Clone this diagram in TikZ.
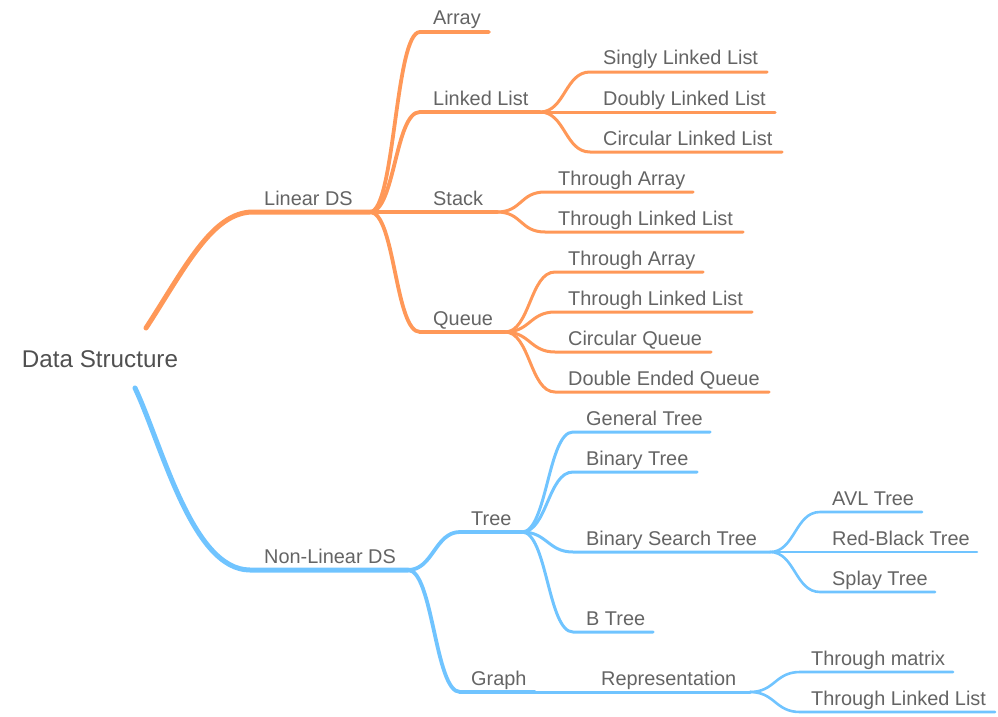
\documentclass[tikz,border=0pt]{standalone}
\usepackage{fontspec}
\setmainfont{Liberation Sans}
\definecolor{orng}{RGB}{255,152,88}
\definecolor{blu}{RGB}{112,196,255}
\definecolor{txt}{RGB}{100,100,100}
\definecolor{rtxt}{RGB}{80,80,80}
\begin{document}
\begin{tikzpicture}[x=1pt,y=-1pt,
  lbl/.style={anchor=base west,inner sep=0pt,text=txt,font=\fontsize{19.9}{22}\selectfont},
  rootlbl/.style={inner sep=0pt,text=rtxt,font=\fontsize{24.2}{27}\selectfont},
  e1o/.style={draw=orng,line width=5pt,line cap=round},
  e2o/.style={draw=orng,line width=3.8pt,line cap=round},
  e3o/.style={draw=orng,line width=3pt,line cap=round},
  e1b/.style={draw=blu,line width=5pt,line cap=round},
  e2b/.style={draw=blu,line width=3.8pt,line cap=round},
  e3b/.style={draw=blu,line width=3pt,line cap=round},
  e4b/.style={draw=blu,line width=2.6pt,line cap=round},
  cv/.style={out=0,in=180,distance=25pt}
]
\useasboundingbox (0,0) rectangle (998,717);
% root
\node[rootlbl] (root) at (100,359) {Data Structure};
% ---------- Linear DS ----------
\coordinate (oS) at (146,328);
\coordinate (lin) at (253,212);
\coordinate (linE) at (370,212);
\draw[e1o] (oS) .. controls (185,268) and (212,212) .. (lin) -- (linE);
\node[lbl] (linT) at (264,205) {Linear DS};
% Array
\coordinate (arrS) at (420,32); \coordinate (arrE) at (489,32);
\draw[e2o] (linE) to[cv] (arrS) -- (arrE);
\node[lbl] (arrT) at (433,25) {Array};
% Linked List
\coordinate (llS) at (420,112); \coordinate (llE) at (540,112);
\draw[e2o] (linE) to[cv] (llS) -- (llE);
\node[lbl] (llT) at (433,105) {Linked List};
% Stack
\coordinate (stE) at (497,212);
\draw[e2o] (linE) -- (stE);
\node[lbl] (stT) at (433,205) {Stack};
% Queue
\coordinate (quS) at (420,332); \coordinate (quE) at (505,332);
\draw[e2o] (linE) to[cv] (quS) -- (quE);
\node[lbl] (quT) at (433,325) {Queue};
% Linked list children
\coordinate (sl1) at (590,72); \coordinate (sl2) at (767,72);
\draw[e3o] (llE) to[cv] (sl1) -- (sl2);
\node[lbl] (slT) at (603,65) {Singly Linked List};
\coordinate (dl2) at (775,112);
\draw[e3o] (llE) -- (dl2);
\node[lbl] (dlT) at (603,105) {Doubly Linked List};
\coordinate (cl1) at (590,152); \coordinate (cl2) at (782,152);
\draw[e3o] (llE) to[cv] (cl1) -- (cl2);
\node[lbl] (clT) at (603,145) {Circular Linked List};
% Stack children
\coordinate (sa1) at (545,192); \coordinate (sa2) at (693,192);
\draw[e3o] (stE) to[cv] (sa1) -- (sa2);
\node[lbl] (saT) at (558,185) {Through Array};
\coordinate (sb1) at (545,232); \coordinate (sb2) at (743,232);
\draw[e3o] (stE) to[cv] (sb1) -- (sb2);
\node[lbl] (sbT) at (558,225) {Through Linked List};
% Queue children
\coordinate (qa1) at (555,272); \coordinate (qa2) at (703,272);
\draw[e3o] (quE) to[cv] (qa1) -- (qa2);
\node[lbl] (qaT) at (568,265) {Through Array};
\coordinate (qb1) at (555,312); \coordinate (qb2) at (752,312);
\draw[e3o] (quE) to[cv] (qb1) -- (qb2);
\node[lbl] (qbT) at (568,305) {Through Linked List};
\coordinate (qc1) at (555,352); \coordinate (qc2) at (711,352);
\draw[e3o] (quE) to[cv] (qc1) -- (qc2);
\node[lbl] (qcT) at (568,345) {Circular Queue};
\coordinate (qd1) at (555,392); \coordinate (qd2) at (769,392);
\draw[e3o] (quE) to[cv] (qd1) -- (qd2);
\node[lbl] (qdT) at (568,385) {Double Ended Queue};
% ---------- Non-Linear DS ----------
\coordinate (bS) at (135,388);
\coordinate (nl) at (250,570);
\coordinate (nlE) at (408,570);
\draw[e1b] (bS) .. controls (162,445) and (192,570) .. (nl) -- (nlE);
\node[lbl] (nlT) at (264,563) {Non-Linear DS};
% Tree
\coordinate (trS) at (460,532); \coordinate (trE) at (522,532);
\draw[e2b] (nlE) to[cv] (trS) -- (trE);
\node[lbl] (trT) at (471,525) {Tree};
% Graph
\coordinate (grS) at (460,692); \coordinate (grE) at (535,692);
\draw[e2b] (nlE) to[cv] (grS) -- (grE);
\node[lbl] (grT) at (471,685) {Graph};
% Tree children
\coordinate (gt1) at (573,432); \coordinate (gt2) at (710,432);
\draw[e3b] (trE) to[cv] (gt1) -- (gt2);
\node[lbl] (gtT) at (586,425) {General Tree};
\coordinate (bt1) at (573,472); \coordinate (bt2) at (697,472);
\draw[e3b] (trE) to[cv] (bt1) -- (bt2);
\node[lbl] (btT) at (586,465) {Binary Tree};
\coordinate (bs1) at (573,552); \coordinate (bs2) at (770,552);
\draw[e3b] (trE) to[cv] (bs1) -- (bs2);
\node[lbl] (bsT) at (586,545) {Binary Search Tree};
\coordinate (bb1) at (573,632); \coordinate (bb2) at (653,632);
\draw[e3b] (trE) to[cv] (bb1) -- (bb2);
\node[lbl] (bbT) at (586,625) {B Tree};
% BST children
\coordinate (av1) at (820,512); \coordinate (av2) at (922,512);
\draw[e4b] (bs2) to[cv] (av1) -- (av2);
\node[lbl] (avT) at (832,505) {AVL Tree};
\coordinate (rb2) at (977,552);
\draw[e4b] (bs2) -- (rb2);
\node[lbl] (rbT) at (832,545) {Red-Black Tree};
\coordinate (sp1) at (820,592); \coordinate (sp2) at (935,592);
\draw[e4b] (bs2) to[cv] (sp1) -- (sp2);
\node[lbl] (spT) at (832,585) {Splay Tree};
% Representation
\coordinate (reE) at (750,692);
\draw[e3b] (grE) -- (reE);
\node[lbl] (reT) at (601,685) {Representation};
\coordinate (tm1) at (800,672); \coordinate (tm2) at (953,672);
\draw[e4b] (reE) to[cv] (tm1) -- (tm2);
\node[lbl] (tmT) at (811,665) {Through matrix};
\coordinate (tl1) at (800,712); \coordinate (tl2) at (995,712);
\draw[e4b] (reE) to[cv] (tl1) -- (tl2);
\node[lbl] (tlT) at (811,705) {Through Linked List};
\end{tikzpicture}
\end{document}
